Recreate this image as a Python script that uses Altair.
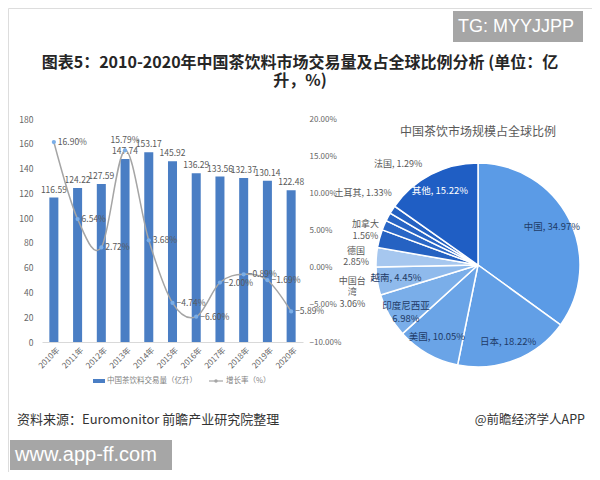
import altair as alt
import pandas as pd

# ---------------- data ----------------
years = ["2010年", "2011年", "2012年", "2013年", "2014年", "2015年",
         "2016年", "2017年", "2018年", "2019年", "2020年"]
volume = [116.59, 124.22, 127.59, 147.74, 153.17, 145.92,
          136.29, 133.56, 132.37, 130.14, 122.48]
growth = [16.90, 6.54, 2.72, 15.79, 3.68, -4.74,
          -6.60, -2.00, -0.89, -1.69, -5.89]
left_ticks = [0, 20, 40, 60, 80, 100, 120, 140, 160, 180]
right_ticks = [-10, -5, 0, 5, 10, 15, 20]

countries = ["中国", "日本", "美国", "印度尼西亚", "越南", "中国台湾",
             "德国", "加拿大", "土耳其", "法国", "其他"]
shares = [34.97, 18.22, 10.05, 6.98, 4.45, 3.06, 2.85, 1.56, 1.33, 1.29, 15.22]

title_text = "图表5：2010-2020年中国茶饮料市场交易量及占全球比例分析 (单位：亿\n升，%)"
pie_title = "中国茶饮市场规模占全球比例"
legend_names = ["中国茶饮料交易量（亿升）", "增长率（%）"]
source_text = "资料来源：Euromonitor 前瞻产业研究院整理"
credit_text = "@前瞻经济学人APP"

# ---------------- styles ----------------
FONT = "Noto Sans CJK SC"
W, H = 584, 464
M = 8  # page margin: canvas = page - 8
BAR_COLOR = "#4a7ec4"
LINE_COLOR = "#a5a5a5"
POINT_COLOR = "#7aaee8"
LABEL_COLOR = "#595959"
pie_colors = ["#5b9be6", "#629fe6", "#6aa4e7", "#7aaee9", "#8fbaec", "#a6c7ef",
              "#2562c2", "#2a67c6", "#2764c4", "#2361c2", "#1f5ec4"]

left_df = pd.DataFrame({"year": years, "volume": volume, "growth": growth})

line_breaks = {"印度尼西亚": "印度尼西亚\n", "中国台湾": "中国台\n湾\n",
               "德国": "德国\n", "加拿大": "加拿大\n"}
pie_df = pd.DataFrame({
    "country": countries,
    "share": shares,
    "idx": list(range(len(countries))),
    "label": [line_breaks.get(c, c + ", ") + f"{s:.2f}%" for c, s in zip(countries, shares)],
})
inside_names = [c for c, s in zip(countries, shares) if s >= 4]
outside_nudge = {"中国台湾": (-6, 25), "德国": (-6, 17), "加拿大": (-2, 6),
                 "土耳其": (-9, -15), "法国": (21, -36)}

# ---------------- left: bars + growth line ----------------
x_enc = alt.X(
    "year:N", sort=years,
    scale=alt.Scale(range=[42 - M, 303 - M], paddingInner=0.62, paddingOuter=0.31),
    axis=alt.Axis(title=None, labelAngle=-45, labelAlign="right", labelBaseline="top",
                  labelPadding=4, labelOffset=2, ticks=False, domain=True,
                  domainColor="#d9d9d9", offset=-(H - (342 - M)), labelFontSize=8,
                  labelColor="#666666", labelFont=FONT),
)
yl_scale = alt.Scale(domain=[0, 180], range=[342 - M, 119 - M], nice=False)
yr_scale = alt.Scale(domain=[-10, 20], range=[342 - M, 119 - M], nice=False)
y_left = alt.Y("volume:Q", scale=yl_scale,
               axis=alt.Axis(title=None, values=left_ticks, ticks=False, domain=False,
                             grid=False, offset=-27, labelPadding=2, labelFontSize=8.5,
                             labelColor="#666666", labelFont=FONT))
y_left_na = alt.Y("volume:Q", scale=yl_scale, axis=None)
y_right = alt.Y("growth:Q", scale=yr_scale,
                axis=alt.Axis(orient="right", title=None, values=right_ticks,
                              labelExpr="format(datum.value, '.2f') + '%'",
                              ticks=False, domain=False, grid=False,
                              offset=-(W - 299), labelPadding=2, labelFontSize=8,
                              labelColor="#666666", labelFont=FONT))
y_right_na = alt.Y("growth:Q", scale=yr_scale, axis=None)

base_left = alt.Chart(left_df)
bars = base_left.mark_bar(color=BAR_COLOR).encode(x=x_enc, y=y_left)
bar_labels = base_left.mark_text(dy=-8, fontSize=8.5, color=LABEL_COLOR, baseline="middle").encode(
    x=x_enc, y=y_left_na, text=alt.Text("volume:Q", format=".2f"))
line = base_left.mark_line(interpolate="cardinal", color=LINE_COLOR, strokeWidth=1.5).encode(
    x=x_enc, y=y_right)
points = base_left.mark_circle(size=18, color=POINT_COLOR, opacity=1).encode(x=x_enc, y=y_right_na)
line_labels = base_left.transform_filter(alt.datum.year != "2013年").transform_calculate(
    lab="format(datum.growth, '.2f') + '%'"
).mark_text(dx=4, align="left", baseline="middle", fontSize=8.5, color=LABEL_COLOR).encode(
    x=x_enc, y=y_right_na, text="lab:N")
line_label_top = base_left.transform_filter(alt.datum.year == "2013年").transform_calculate(
    lab="format(datum.growth, '.2f') + '%'"
).mark_text(dy=-10, align="center", baseline="middle", fontSize=8.5, color=LABEL_COLOR).encode(
    x=x_enc, y=y_right_na, text="lab:N")

# ---------------- right: pie ----------------
CX, CY, R = 478 - M, 265 - M, 102
total = sum(shares)
theta_scale = alt.Scale(domain=[0, total], nice=False, zero=True)
pie_base = alt.Chart(pie_df).transform_stack(
    stack="share", groupby=[], as_=["s0", "s1"], sort=[alt.SortField("idx", order="ascending")]
).transform_calculate(mid="(datum.s0 + datum.s1) / 2")

arcs = pie_base.mark_arc(outerRadius=R, stroke="white", strokeWidth=1.5).encode(
    theta=alt.Theta("s0:Q", scale=theta_scale, stack=False),
    theta2="s1:Q",
    color=alt.Color("country:N", scale=alt.Scale(domain=countries, range=pie_colors), legend=None),
    x=alt.value(CX), y=alt.value(CY),
)
inside_labels = pie_base.transform_filter(
    alt.FieldOneOfPredicate(field="country", oneOf=inside_names)
).mark_text(radius=83, fontSize=9.5, lineBreak="\n", lineHeight=13, align="center",
            baseline="middle").encode(
    theta=alt.Theta("mid:Q", scale=theta_scale, stack=False),
    text="label:N",
    color=alt.condition(alt.datum.country == "其他", alt.value("white"), alt.value("#1f3b66")),
    x=alt.value(CX), y=alt.value(CY),
)
outside_layers = []
for name, (ddx, ddy) in outside_nudge.items():
    outside_layers.append(
        pie_base.transform_filter(alt.datum.country == name).mark_text(
            radius=120, dx=ddx, dy=ddy, fontSize=9, lineBreak="\n", align="center",
            baseline="middle", color=LABEL_COLOR, lineHeight=11.5
        ).encode(
            theta=alt.Theta("mid:Q", scale=theta_scale, stack=False),
            text="label:N", x=alt.value(CX), y=alt.value(CY),
        )
    )

# ---------------- decorations ----------------
one = alt.Data(values=[{}])


def txt(text, x, y, **kw):
    return alt.Chart(one).mark_text(text=text, **kw).encode(x=alt.value(x - M), y=alt.value(y - M))


def box(x1, y1, x2, y2, color):
    return alt.Chart(one).mark_rect(color=color).encode(
        x=alt.value(x1 - M), x2=alt.value(x2 - M), y=alt.value(y1 - M), y2=alt.value(y2 - M))


deco = [
    txt(title_text, 300, 68, fontSize=16, fontWeight="bold", color="#262626",
        align="center", baseline="alphabetic", lineBreak="\n", lineHeight=18),
    txt(pie_title, 478, 132, fontSize=12, color="#595959", align="center", baseline="middle"),
    box(93, 379, 105, 383, BAR_COLOR),
    txt(legend_names[0], 107, 381, fontSize=7.5, color="#7f7f7f", align="left", baseline="middle"),
    alt.Chart(one).mark_rule(color=LINE_COLOR, strokeWidth=1.2).encode(
        x=alt.value(209 - M), x2=alt.value(223 - M), y=alt.value(381 - M)),
    alt.Chart(one).mark_circle(size=12, color=LINE_COLOR, opacity=1).encode(
        x=alt.value(216 - M), y=alt.value(381 - M)),
    txt(legend_names[1], 226, 381, fontSize=7.5, color="#7f7f7f", align="left", baseline="middle"),
    txt(source_text, 17, 420, fontSize=13, color="#333333", align="left", baseline="middle"),
    txt(credit_text, 585, 420, fontSize=12.5, color="#333333", align="right", baseline="middle"),
    box(10, 440, 172, 470, "#a6a6a6"),
    txt("www.app-ff.com", 15, 455, fontSize=20, color="white", align="left", baseline="middle",
        font="Liberation Sans"),
    box(453, 11, 583, 42, "#a6a6a6"),
    txt("TG: MYYJJPP", 458, 27, fontSize=18, color="white", align="left", baseline="middle",
        font="Liberation Sans"),
]

chart = alt.layer(
    bars, bar_labels, line, points, line_labels, line_label_top,
    arcs, inside_labels, *outside_layers, *deco
).resolve_scale(y="independent").properties(
    width=W, height=H, autosize=alt.AutoSizeParams(type="none"), padding=0,
    background="white",
).configure_view(stroke=None).configure(font=FONT)

chart.save("out.html", embed_options={"renderer": "svg", "actions": False})
